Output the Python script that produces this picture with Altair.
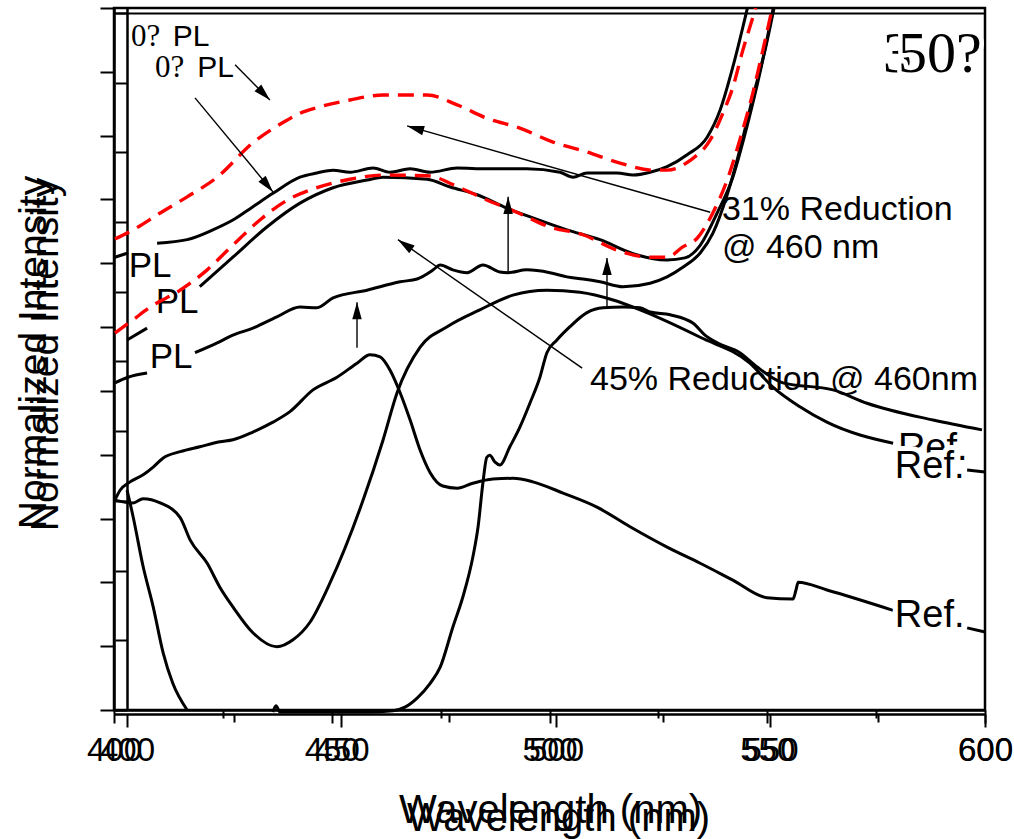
import math
import pandas as pd
import altair as alt

# ---------------- data (wavelength in nm, intensity in % of axis height) ----------------
# PL curves (upper pair: 0-deg PL, red dashed = second sample)
red_top_x = [400.2, 404.4, 410.6, 416.8, 423.7, 431.9, 439.7, 442.7, 446.6, 454.2, 461.8, 471.9, 478.8, 485.6,
             493.2, 500.8, 508.6, 516.2, 523.8, 527.0, 532.3, 536.9, 539.8, 542.1, 544.4, 546.7, 547.8]
red_top_y = [67.1, 68.4, 70.8, 73.1, 75.9, 80.8, 84.0, 85.0, 85.8, 86.9, 87.6, 87.6, 86.2, 84.3,
             82.9, 80.9, 79.5, 77.9, 76.9, 76.9, 78.3, 81.2, 85.0, 88.7, 94.0, 98.7, 101.0]

black_top_a_x = [400.2, 403.2]
black_top_a_y = [64.5, 65.1]
black_top_b_x = [409.9, 416.8, 422.7, 427.3, 431.9, 436.5, 442.7, 446.6, 450.3, 454.2, 459.5, 463.4, 468.0,
                 472.6, 478.8, 485.6, 494.8, 502.4, 505.4, 508.6, 515.5, 519.2, 523.1, 527.0, 531.6, 536.2,
                 539.2, 542.1, 545.6]
black_top_b_y = [66.5, 67.0, 68.4, 69.8, 71.7, 73.6, 75.9, 76.5, 76.9, 76.6, 77.2, 76.6, 77.1,
                 76.6, 77.2, 77.1, 77.1, 76.6, 75.9, 76.5, 76.5, 76.2, 76.6, 77.4, 79.1, 81.6,
                 85.5, 91.6, 100.4]

red_low_x = [400.2, 404.4, 408.3, 415.2, 421.4, 426.6, 433.5, 439.7, 446.6, 454.2, 461.8, 471.9, 479.4, 484.7,
             492.5, 500.1, 507.7, 515.5, 523.1, 527.0, 530.7, 533.9, 537.5, 540.8, 543.7, 546.7, 549.0, 551.3]
red_low_y = [53.7, 55.6, 57.4, 59.8, 62.7, 65.8, 69.8, 72.6, 74.4, 75.6, 76.2, 76.1, 74.4, 72.9,
             70.9, 68.8, 67.7, 65.5, 64.5, 64.5, 66.0, 67.2, 70.8, 75.5, 81.2, 87.9, 94.0, 100.4]

black_mid_a_x = [403.0, 407.6]
black_mid_a_y = [52.7, 54.4]
black_mid_b_x = [419.7, 427.3, 435.1, 442.7, 450.3, 458.1, 461.8, 471.9, 477.2, 483.4, 490.2, 496.2, 504.0,
                 511.6, 519.2, 527.0, 531.1, 534.6, 538.5, 542.1, 545.3, 548.3, 551.5]
black_mid_b_y = [60.3, 64.5, 68.8, 72.2, 74.4, 75.5, 75.9, 75.6, 74.5, 73.4, 71.5, 70.1, 68.4,
                 67.0, 65.0, 64.1, 64.4, 66.2, 70.8, 75.9, 83.0, 90.7, 100.4]

black_low_a_x = [400.2, 403.2, 407.6]
black_low_a_y = [46.6, 47.4, 48.0]
black_low_b_x = [418.6, 423.7, 427.3, 431.9, 437.4, 442.7, 446.6, 450.3, 458.1, 465.7, 469.6, 473.3, 474.9,
                 477.8, 481.1, 484.7, 488.6, 490.5, 494.8, 500.1, 504.0, 507.7, 511.6, 516.9, 523.1, 527.0,
                 530.7, 534.6, 537.5, 540.8, 543.7, 546.7, 549.5, 551.7]
black_low_b_y = [50.9, 52.3, 53.4, 54.4, 56.0, 57.4, 57.3, 58.7, 59.8, 61.0, 61.4, 62.7, 63.4,
                 62.7, 62.3, 63.4, 62.4, 62.3, 62.7, 62.3, 61.7, 61.4, 61.0, 60.3, 60.8, 61.7,
                 63.1, 65.1, 67.9, 73.4, 79.8, 87.3, 94.0, 100.4]

# reference spectra
ref_a_x = [400.2, 401.4, 403.7, 406.7, 409.0, 411.3, 415.2, 419.7, 424.3, 427.3, 431.9, 436.5, 440.4, 445.7,
           451.2, 455.8, 458.8, 461.1, 463.4, 465.7, 468.0, 470.3, 472.6, 475.5, 478.8, 482.4, 487.0, 491.6,
           496.2, 503.1, 510.9, 518.5, 527.0, 534.6, 542.1, 549.9, 555.9, 556.6, 557.1, 563.7, 578.9]
ref_a_y = [29.9, 31.3, 32.5, 33.5, 34.6, 35.9, 36.8, 37.5, 38.2, 38.5, 39.6, 41.0, 42.5, 45.6,
           47.4, 49.4, 50.6, 50.3, 48.4, 45.2, 41.3, 37.0, 33.8, 31.9, 31.6, 32.3, 32.9, 33.0,
           32.5, 30.9, 28.9, 26.1, 23.2, 20.9, 18.5, 16.0, 15.8, 17.1, 18.2, 17.1, 14.2]
ref_a_end_x = [595.9, 600.0]
ref_a_end_y = [11.7, 11.1]

ref_b_x = [400.2, 404.4, 406.7, 410.6, 415.2, 417.5, 421.4, 424.3, 427.3, 431.9, 437.4, 441.1, 445.0, 449.6,
           457.2, 461.8, 465.0, 470.3, 476.5, 484.0, 491.6, 499.4, 507.0, 514.6, 520.8, 534.6, 546.0, 551.3,
           557.5, 563.7, 578.9]
ref_b_y = [29.9, 29.5, 30.1, 29.5, 27.4, 24.2, 20.9, 17.5, 14.7, 11.0, 9.0, 10.0, 12.5, 18.1,
           29.9, 38.5, 45.2, 51.7, 54.6, 57.0, 59.1, 59.8, 59.5, 58.4, 57.0, 53.1, 49.4, 46.0,
           43.2, 41.0, 38.0]

ref_c_x = [403.0, 404.4, 406.7, 409.0, 411.3, 413.5, 416.8]
ref_c_y = [31.3, 27.5, 20.4, 14.7, 8.1, 3.8, 0.0]

ref_d_x = [436.5, 437.2, 438.1, 451.9, 458.1, 464.1, 466.8, 469.6, 472.6, 474.9, 477.8, 480.1, 482.4, 483.6,
           484.7, 485.6, 486.3, 487.5, 488.6, 490.9, 493.2, 495.5, 497.8, 499.4, 501.7, 504.7, 508.6, 512.3,
           516.9, 520.8, 523.1, 527.7, 533.0, 535.7, 538.5, 543.7, 547.6, 553.6, 565.1, 572.9, 588.1, 599.3]
ref_d_y = [-0.3, 0.6, -0.3, -0.3, -0.3, -0.1, 0.4, 1.7, 3.8, 6.1, 11.8, 16.1, 21.8, 26.1,
           32.3, 36.0, 36.3, 35.3, 34.9, 37.5, 40.3, 43.7, 47.4, 50.9, 52.7, 54.6, 56.6, 57.3,
           57.4, 57.3, 56.7, 56.3, 55.1, 53.4, 52.3, 50.9, 48.9, 46.6, 45.6, 43.7, 41.3, 39.9]

ref_mid_end_x = [595.9, 600.0]
ref_mid_end_y = [34.2, 33.9]

# arrows (tail -> head)
arrow_x0 = [427.8, 418.6, 455.8, 490.5, 513.2, 536.9, 507.5]
arrow_y0 = [91.9, 87.2, 51.6, 62.3, 57.4, 70.9, 48.7]
arrow_x1 = [435.8, 436.5, 455.8, 490.5, 513.2, 467.3, 465.2]
arrow_y1 = [86.9, 73.8, 58.1, 73.1, 64.4, 83.2, 67.0]

# axis ticks
x_ticks = [400, 425, 450, 475, 500, 525, 550, 575, 600]
y_ticks_a = [k * 100 / 11 for k in range(12)]
y_ticks_b = [k * 9.93 for k in range(11)]

# ---------------- helpers ----------------
SANS = "Liberation Sans"
SERIF = "Liberation Serif"
PX_NM = 871 / 200
PX_UNIT = 702 / 100

MAJOR = "datum.value % 50 === 0"


def x_axis(offset, pad, tx, ty):
    return alt.Axis(orient="bottom", offset=offset, values=x_ticks, grid=False,
                    domainColor="black", domainWidth=2.5, tickColor="black", tickWidth=2,
                    tickSize={"condition": {"test": MAJOR, "value": 13}, "value": 8},
                    labelExpr=f"{MAJOR} ? datum.label : ''", labelFont=SANS, labelFontSize=33,
                    labelColor="black", labelPadding=pad, labelFlush=False, labelOverlap=False,
                    labelBound=False, title="Wavelength (nm)", titleFont=SANS, titleFontSize=40,
                    titleFontWeight="normal", titleColor="black", titleX=tx, titleY=ty,
                    titleAlign="center", titleBaseline="alphabetic", titleAngle=0)


def y_axis(offset, values, tsize, tx, ty):
    return alt.Axis(orient="left", offset=offset, values=values, grid=False, labels=False,
                    domainColor="black", domainWidth=2.5, tickColor="black", tickWidth=2,
                    tickSize=tsize, title="Normalized Intensity", titleFont=SANS, titleFontSize=39,
                    titleFontWeight="normal", titleColor="black", titleX=tx, titleY=ty,
                    titleAngle=270, titleAlign="center", titleBaseline="alphabetic")


xs_main = alt.Scale(domain=[400, 600], nice=False, zero=False)
ys_main = alt.Scale(domain=[0, 100], nice=False, zero=False)
AX_XA = x_axis(0, 11, 436, 112)
AX_YA = y_axis(0, y_ticks_a, 14, -69, 344)


def X(field="wl"):
    return alt.X(f"{field}:Q", scale=xs_main, axis=AX_XA)


def Y(field="v"):
    return alt.Y(f"{field}:Q", scale=ys_main, axis=AX_YA)


def curves(pairs):
    frames = []
    for name, xs, ys in pairs:
        frames.append(pd.DataFrame({"wl": xs, "v": ys, "curve": name}))
    return pd.concat(frames, ignore_index=True)


pl_black = curves([
    ("top_a", black_top_a_x, black_top_a_y), ("top_b", black_top_b_x, black_top_b_y),
    ("mid_a", black_mid_a_x, black_mid_a_y), ("mid_b", black_mid_b_x, black_mid_b_y),
    ("low_a", black_low_a_x, black_low_a_y), ("low_b", black_low_b_x, black_low_b_y),
])
pl_red = curves([("red_top", red_top_x, red_top_y), ("red_low", red_low_x, red_low_y)])
refs = curves([
    ("ref_a", ref_a_x, ref_a_y), ("ref_a_end", ref_a_end_x, ref_a_end_y),
    ("ref_b", ref_b_x, ref_b_y), ("ref_c", ref_c_x, ref_c_y), ("ref_d", ref_d_x, ref_d_y),
    ("ref_mid_end", ref_mid_end_x, ref_mid_end_y),
])

angles = []
for x0, y0, x1, y1 in zip(arrow_x0, arrow_y0, arrow_x1, arrow_y1):
    dx = (x1 - x0) * PX_NM
    dy = -(y1 - y0) * PX_UNIT
    angles.append(math.degrees(math.atan2(dx, -dy)) % 360)
arrows = pd.DataFrame({"wl": arrow_x0, "v": arrow_y0, "wl2": arrow_x1, "v2": arrow_y1, "ang": angles})

black_lines = alt.Chart(pl_black).mark_line(color="black", strokeWidth=3, clip=True,
                                            interpolate="monotone").encode(
    x=X(), y=Y(), detail="curve:N")
ref_lines = alt.Chart(refs).mark_line(color="black", strokeWidth=3,
                                      interpolate="monotone").encode(
    x=X(), y=Y(), detail="curve:N")
red_lines = alt.Chart(pl_red).mark_line(color="#ff0000", strokeWidth=3.4, strokeDash=[16, 9], clip=True,
                                        interpolate="monotone").encode(
    x=X(), y=Y(), detail="curve:N")

arrow_rules = alt.Chart(arrows).mark_rule(color="black", strokeWidth=1.4).encode(
    x=X(), y=Y(), x2="wl2:Q", y2="v2:Q")
arrow_heads = alt.Chart(arrows).mark_point(
    shape="M0,0L-0.5,1.8L0.5,1.8Z", size=360, filled=True, color="black", opacity=1, strokeWidth=0
).encode(x=X("wl2"), y=Y("v2"), angle=alt.Angle("ang:Q", scale=None))

# ---------------- labels ----------------
pl_lab = pd.DataFrame({"wl": [408.3, 414.5, 413.1], "v": [63.2, 58.1, 50.3], "t": ["PL", "PL", "PL"]})
zero_lab = pd.DataFrame({"wl": [403.9, 409.4], "v": [95.9, 91.4], "t": ["0?", "0?"]})
zero_pl = pd.DataFrame({"wl": [413.5, 419.1], "v": [95.9, 91.4], "t": ["PL", "PL"]})
red_lab = pd.DataFrame({"wl": [539.6, 539.6, 509.3], "v": [71.2, 65.8, 47.0],
                        "t": ["31% Reduction", "@ 460 nm", "45% Reduction @ 460nm"]})
ref_hidden = pd.DataFrame({"wl": [580.0], "v": [35.6], "t": ["Ref."]})
ref_front = pd.DataFrame({"wl": [579.3, 579.3], "v": [33.0, 11.8], "t": ["Ref.", "Ref."]})
three = pd.DataFrame({"wl": [576.6], "v": [93.3], "t": ["3"]})
fifty = pd.DataFrame({"wl": [580.0], "v": [93.3], "t": ["50?"]})


def text(df, font, size, align="left", baseline="middle", **kw):
    return alt.Chart(df).mark_text(font=font, fontSize=size, align=align, baseline=baseline,
                                   **kw).encode(x=X(), y=Y(), text="t:N")


labels = [
    text(pl_lab, SANS, 35, align="center", color="black"),
    text(zero_lab, SERIF, 31, color="black"),
    text(zero_pl, SANS, 30, color="black"),
    text(red_lab, SANS, 34, color="black"),
    text(ref_hidden, SANS, 38, baseline="alphabetic", color="black"),
    text(ref_front, SANS, 38, baseline="alphabetic", color="white", stroke="white", strokeWidth=10,
         strokeJoin="round"),
    text(ref_front, SANS, 38, baseline="alphabetic", color="black"),
    text(three, SERIF, 58, color="black"),
    text(fifty, SERIF, 58, color="white", stroke="white", strokeWidth=9, strokeJoin="round"),
    text(fifty, SERIF, 58, color="black"),
]

main = alt.layer(ref_lines, black_lines, *labels, red_lines, arrow_rules, arrow_heads)

# second (slightly shifted) set of axes from the overlaid figure
dummy = pd.DataFrame({"bx": [400.0], "by": [0.0]})
layer_b = alt.Chart(dummy).mark_point(opacity=0).encode(
    x=alt.X("bx:Q", scale=alt.Scale(domain=[396.97, 600], nice=False, zero=False),
            axis=x_axis(4, 7, 444, 116)),
    y=alt.Y("by:Q", scale=alt.Scale(domain=[0, 100], nice=False, zero=False),
            axis=y_axis(-13, y_ticks_b, 12, -70, 346)),
)
layer_c = alt.Chart(dummy).mark_point(opacity=0).encode(
    x=alt.X("bx:Q", scale=alt.Scale(domain=[400, 600], nice=False, zero=False),
            axis=alt.Axis(orient="top", offset=-5, ticks=False, labels=False, grid=False,
                          domainColor="black", domainWidth=2, title=None)),
    y=alt.Y("by:Q", scale=alt.Scale(domain=[0, 100]), axis=None),
)

chart = alt.layer(main, layer_b, layer_c).resolve_scale(x="independent", y="independent").properties(
    width=871, height=702, autosize="none",
    padding={"left": 114, "top": 8, "right": 29, "bottom": 129},
    background="white",
).configure_view(stroke="black", strokeWidth=2.5)

chart.save("out.html", embed_options={"renderer": "svg", "actions": False})
